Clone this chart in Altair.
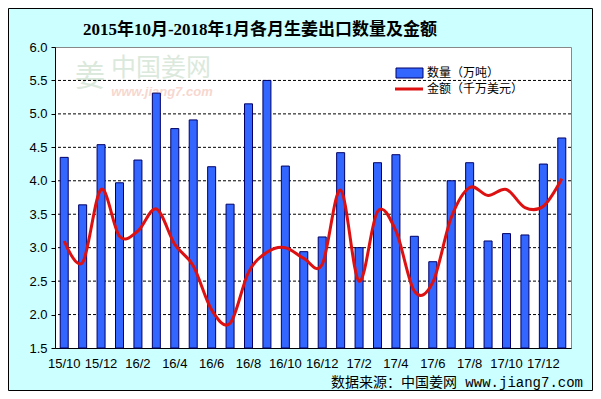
import altair as alt
import pandas as pd

months = ["15/10", "15/11", "15/12", "16/1", "16/2", "16/3", "16/4", "16/5", "16/6",
          "16/7", "16/8", "16/9", "16/10", "16/11", "16/12", "17/1", "17/2", "17/3",
          "17/4", "17/5", "17/6", "17/7", "17/8", "17/9", "17/10", "17/11", "17/12", "18/1"]
quantity = [4.35, 3.64, 4.54, 3.97, 4.31, 5.31, 4.78, 4.91, 4.21, 3.65, 5.15, 5.50,
            4.22, 2.94, 3.16, 4.42, 3.00, 4.27, 4.39, 3.17, 2.79, 4.00, 4.27, 3.10,
            3.21, 3.19, 4.25, 4.64]
amount = [3.10, 2.78, 3.87, 3.17, 3.25, 3.58, 3.05, 2.73, 2.07, 1.87, 2.63, 2.93,
          3.00, 2.84, 2.75, 3.86, 2.50, 3.54, 3.25, 2.35, 2.48, 3.45, 3.90, 3.78,
          3.87, 3.60, 3.62, 4.03]
x_labels = ["15/10", "15/12", "16/2", "16/4", "16/6", "16/8", "16/10", "16/12",
            "17/2", "17/4", "17/6", "17/8", "17/10", "17/12"]
y_ticks = [1.5, 2.0, 2.5, 3.0, 3.5, 4.0, 4.5, 5.0, 5.5, 6.0]
grid_values = [2.0, 2.5, 3.0, 3.5, 4.0, 4.5, 5.0, 5.5]

title_text = "2015年10月-2018年1月各月生姜出口数量及金额"
legend_qty = "数量（万吨）"
legend_amt = "金额（千万美元）"
source_text = "数据来源：中国姜网 www.jiang7.com"

df = pd.DataFrame({"month": months, "quantity": quantity, "amount": amount})
grid_df = pd.DataFrame({"g": grid_values})

W, H = 516, 301
BLUE = "#3366ff"
RED = "#dd1111"
FONT_NUM = "Liberation Sans, Arial, sans-serif"
FONT_CJK = "Noto Sans CJK SC, sans-serif"

x_enc = alt.X("month:N", sort=months, title=None,
              scale=alt.Scale(paddingInner=0, paddingOuter=0),
              axis=alt.Axis(values=x_labels, labelAngle=0, ticks=False,
                            labelPadding=9, labelFontSize=13, labelFont=FONT_NUM,
                            labelColor="black", domainColor="black", grid=False,
                            labelOverlap=False))
y_scale = alt.Scale(domain=[1.5, 6.0], nice=False, zero=False)

grid = alt.Chart(grid_df).mark_rule(color="black", strokeWidth=1, strokeDash=[3, 2]).encode(
    y=alt.Y("g:Q", scale=y_scale, title=None,
            axis=alt.Axis(values=y_ticks, format=".1f", grid=False, tickSize=4,
                          tickColor="black", labelPadding=4, labelFontSize=13,
                          labelFont=FONT_NUM, labelColor="black", domainColor="black",
                          labelOverlap=False, tickCount=10)),
)

bars = alt.Chart(df).mark_bar(size=8, color=BLUE, stroke="#000066", strokeWidth=1).encode(
    x=x_enc,
    y=alt.Y("quantity:Q", scale=y_scale),
    y2=alt.datum(1.5),
)

line = alt.Chart(df).mark_line(color=RED, strokeWidth=3, interpolate="cardinal").encode(
    x=alt.X("month:N", sort=months),
    y=alt.Y("amount:Q", scale=y_scale),
)

def txt(s, x, y, **kw):
    return alt.Chart(pd.DataFrame({"t": [s]})).mark_text(**kw).encode(
        x=alt.value(x), y=alt.value(y), text="t:N")

# watermark
wm1 = txt("中国姜网", 106, 21, fontSize=25, font=FONT_CJK, color="#dbe9dc", align="center", baseline="middle")
wm2 = txt("www.jiang7.com", 107, 45, fontSize=13, font=FONT_NUM, fontStyle="italic",
          fontWeight="bold", color="#f7d7cf", align="center", baseline="middle")
wm3 = txt("姜", 35, 30, fontSize=30, font=FONT_CJK, color="#dbe9dc", align="center", baseline="middle")

title = txt(title_text, 205, -17, fontSize=17, fontWeight="bold",
            font="Liberation Serif, Noto Sans CJK SC, serif", color="black",
            align="center", baseline="middle")

leg_rect = alt.Chart(pd.DataFrame({"a": [0]})).mark_rect(
    color=BLUE, stroke="#000066", strokeWidth=1).encode(
    x=alt.value(341), x2=alt.value(368), y=alt.value(21), y2=alt.value(31))
leg_line = alt.Chart(pd.DataFrame({"a": [0]})).mark_rule(color=RED, strokeWidth=3).encode(
    x=alt.value(340), x2=alt.value(368), y=alt.value(42))
leg_t1 = txt(legend_qty, 372, 26, fontSize=12, font=FONT_CJK, color="black", align="left", baseline="middle")
leg_t2 = txt(legend_amt, 372, 42, fontSize=12, font=FONT_CJK, color="black", align="left", baseline="middle")

source = txt(source_text, 528, 336, fontSize=14, font="Liberation Mono, Noto Sans CJK SC, monospace",
             color="black", align="right", baseline="middle")

border = alt.Chart(pd.DataFrame({"a": [0]})).mark_rect(
    fill=None, stroke="black", strokeWidth=1).encode(
    x=alt.value(-46.5), x2=alt.value(537.5), y=alt.value(-38.5), y2=alt.value(343.5))

chart = alt.layer(wm3, wm1, wm2, grid, bars, line, leg_rect, leg_line, leg_t1, leg_t2,
                  title, source, border).properties(
    width=W, height=H,
    background="#ccffff",
    padding={"left": 47, "top": 39, "right": 22, "bottom": 43},
    autosize=alt.AutoSizeParams(type="none"),
).configure_view(stroke="#888888", fill="white")

chart.save("out.html", embed_options={"renderer": "svg", "actions": False})
